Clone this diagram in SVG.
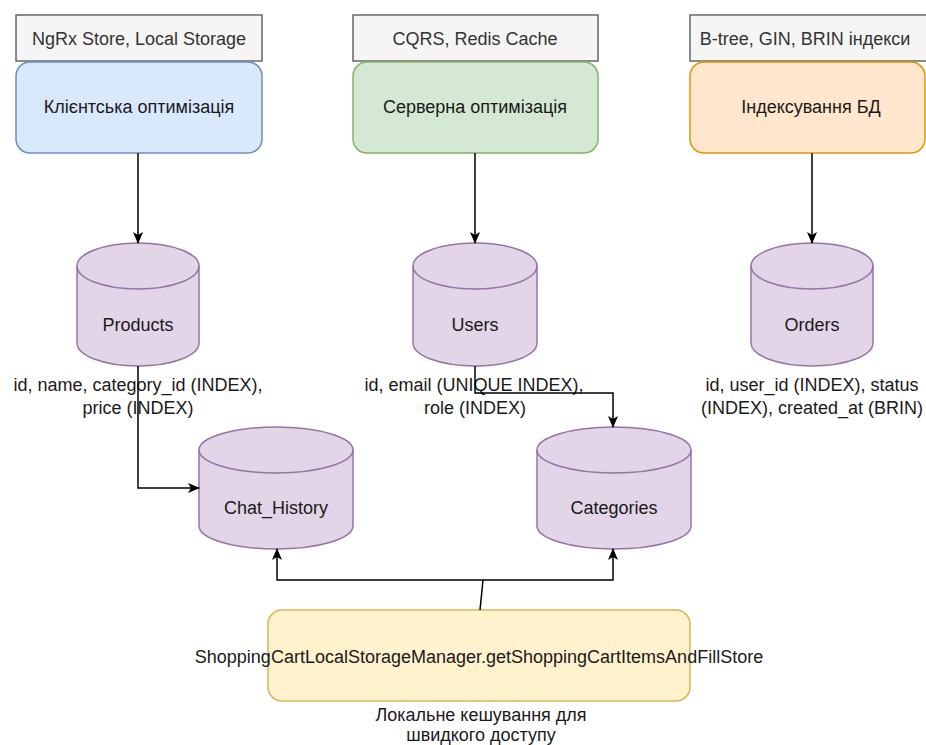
<svg xmlns="http://www.w3.org/2000/svg" width="926" height="745" viewBox="0 0 926 745">
  <style>
    text { font-family: "Liberation Sans", Arial, sans-serif; font-size: 18px; fill: #1a1a1a; text-anchor: middle; }
    .tag rect { fill: #f5f5f5; stroke: #666666; stroke-width: 1.5; }
    .tag text { fill: #333333; }
    .db path { fill: #e1d5e7; stroke: #9673a6; stroke-width: 1.5; }
    .db path.rim { fill: none; }
    .edge { fill: none; stroke: #000000; stroke-width: 1.5; }
  </style>
  <defs>
    <marker id="arrow" viewBox="0 0 12 10" refX="11" refY="5" markerWidth="12" markerHeight="10" markerUnits="userSpaceOnUse" orient="auto">
      <path d="M0,0 L12,5 L0,10 L3,5 Z" fill="#000000"/>
    </marker>
  </defs>

  <!-- technology tags -->
  <g id="tag-client" class="tag">
    <rect x="16" y="15" width="246" height="46"/>
    <text x="139" y="45">NgRx Store, Local Storage</text>
  </g>
  <g id="tag-server" class="tag">
    <rect x="353" y="15" width="245" height="46"/>
    <text x="475" y="45">CQRS, Redis Cache</text>
  </g>
  <g id="tag-db" class="tag">
    <rect x="690" y="15" width="250" height="46"/>
    <text x="805" y="45">B-tree, GIN, BRIN індекси</text>
  </g>

  <!-- optimisation areas -->
  <g id="client-opt">
    <rect x="16" y="62" width="246" height="91" rx="14" fill="#dae8fc" stroke="#6c8ebf" stroke-width="1.5"/>
    <text x="139" y="113">Клієнтська оптимізація</text>
  </g>
  <g id="server-opt">
    <rect x="353" y="62" width="245" height="91" rx="14" fill="#d5e8d4" stroke="#82b366" stroke-width="1.5"/>
    <text x="475" y="113">Серверна оптимізація</text>
  </g>
  <g id="db-indexing">
    <rect x="690" y="62" width="235" height="91" rx="14" fill="#ffe6cc" stroke="#d79b00" stroke-width="1.5"/>
    <text x="811" y="113">Індексування БД</text>
  </g>

  <!-- tables -->
  <g id="products" class="db">
    <path d="M77,266 a61,23 0 0 1 122,0 v77 a61,23 0 0 1 -122,0 Z"/>
    <path class="rim" d="M77,266 a61,23 0 0 0 122,0"/>
    <text x="138" y="331">Products</text>
    <text x="138" y="391">id, name, category_id (INDEX),</text>
    <text x="138" y="414">price (INDEX)</text>
  </g>
  <g id="users" class="db">
    <path d="M413,266 a62,23 0 0 1 124,0 v77 a62,23 0 0 1 -124,0 Z"/>
    <path class="rim" d="M413,266 a62,23 0 0 0 124,0"/>
    <text x="475" y="331">Users</text>
    <text x="474" y="391">id, email (UNIQUE INDEX),</text>
    <text x="475" y="414">role (INDEX)</text>
  </g>
  <g id="orders" class="db">
    <path d="M751,266 a61,23 0 0 1 122,0 v77 a61,23 0 0 1 -122,0 Z"/>
    <path class="rim" d="M751,266 a61,23 0 0 0 122,0"/>
    <text x="812" y="331">Orders</text>
    <text x="812" y="391">id, user_id (INDEX), status</text>
    <text x="812" y="414">(INDEX), created_at (BRIN)</text>
  </g>
  <g id="chat-history" class="db">
    <path d="M199,450 a77,23 0 0 1 154,0 v76 a77,23 0 0 1 -154,0 Z"/>
    <path class="rim" d="M199,450 a77,23 0 0 0 154,0"/>
    <text x="276" y="514">Chat_History</text>
  </g>
  <g id="categories" class="db">
    <path d="M537,450 a77,23 0 0 1 154,0 v76 a77,23 0 0 1 -154,0 Z"/>
    <path class="rim" d="M537,450 a77,23 0 0 0 154,0"/>
    <text x="614" y="514">Categories</text>
  </g>

  <!-- local cache manager -->
  <g id="cart-manager">
    <rect x="268" y="610" width="422" height="91" rx="14" fill="#fff2cc" stroke="#d6b656" stroke-width="1.5"/>
    <text x="479" y="663">ShoppingCartLocalStorageManager.getShoppingCartItemsAndFillStore</text>
    <text x="481" y="721">Локальне кешування для</text>
    <text x="481" y="741">швидкого доступу</text>
  </g>

  <!-- connectors -->
  <g id="connectors">
    <path class="edge" d="M138,153 V243" marker-end="url(#arrow)"/>
    <path class="edge" d="M475,153 V243" marker-end="url(#arrow)"/>
    <path class="edge" d="M812,153 V243" marker-end="url(#arrow)"/>
    <path class="edge" d="M138,366 V488 H199" marker-end="url(#arrow)"/>
    <path class="edge" d="M475,366 V393 H613 V427" marker-end="url(#arrow)"/>
    <path class="edge" d="M480,610 L483,580"/>
    <path class="edge" d="M483,580 H277 V549" marker-end="url(#arrow)"/>
    <path class="edge" d="M483,580 H613 V549" marker-end="url(#arrow)"/>
  </g>
</svg>
